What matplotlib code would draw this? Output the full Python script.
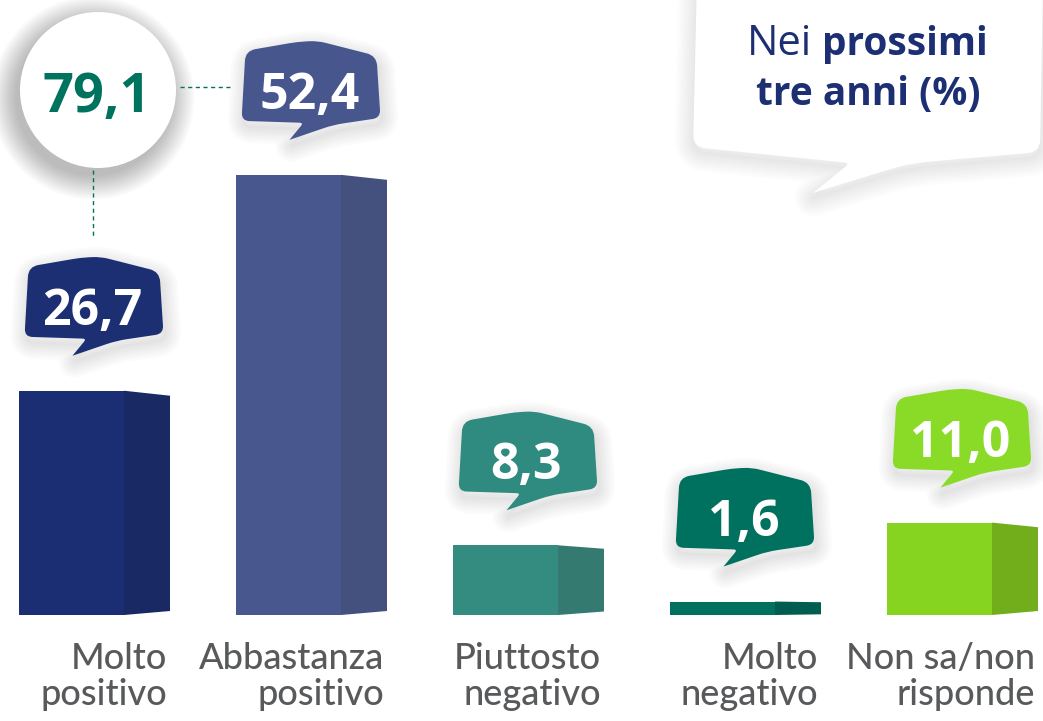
import matplotlib
matplotlib.use("Agg")
import matplotlib.pyplot as plt
import numpy as np
from matplotlib.path import Path
from matplotlib.patches import PathPatch, Circle
from matplotlib.transforms import Affine2D, ScaledTranslation

# dati
categorie = ["Molto\npositivo", "Abbastanza\npositivo", "Piuttosto\nnegativo",
             "Molto\nnegativo", "Non sa/non\nrisponde"]
valori = [26.7, 52.4, 8.3, 1.6, 11.0]
etichette = ["26,7", "52,4", "8,3", "1,6", "11,0"]
totale_positivo = "79,1"

col_fronte = ["#1b2e73", "#48588f", "#348b80", "#02705f", "#86d420"]
col_lato = ["#182963", "#44507e", "#347a71", "#025d51", "#72ad1c"]
col_fumetto = ["#1c2f73", "#47578e", "#2f8a7f", "#00705f", "#8adb28"]
blu = "#1c2f73"
verde_scuro = "#00735f"
grigio = "#58595b"

W, H = 1043, 721
PX_X = 217.0   # pixel per categoria
PX_Y = 8.4     # pixel per punto percentuale


def rounded_path(pts, radii):
    n = len(pts)
    verts, codes = [], []
    for k in range(n):
        p = np.array(pts[k], float)
        r = radii[k]
        if r == 0:
            verts.append(p)
            codes.append(Path.LINETO)
            continue
        a = np.array(pts[k - 1], float)
        b = np.array(pts[(k + 1) % n], float)
        da, db = a - p, b - p
        la, lb = np.linalg.norm(da), np.linalg.norm(db)
        pa = p + da / la * min(r, la / 2)
        pb = p + db / lb * min(r, lb / 2)
        verts += [pa, p, pb]
        codes += [Path.LINETO, Path.CURVE3, Path.CURVE3]
    codes[0] = Path.MOVETO
    verts.append(verts[0])
    codes.append(Path.CLOSEPOLY)
    return Path(verts, codes)


# forma del fumetto (pixel, relativo al centro, y verso l'alto)
fumetto_pts = [(-66, 30), (-14, 39), (6, 40), (65, 25), (69, -37),
               (22, -44), (-22, -59), (-8, -42), (-70, -40)]
fumetto_r = [10, 8, 8, 10, 8, 10, 0, 4, 8]
fumetto = rounded_path(fumetto_pts, fumetto_r)

fig = plt.figure(figsize=(W / 100, H / 100), dpi=100)
ax = fig.add_axes([0, 0, 1, 1])
ax.set_xlim(-94.5 / PX_X, (W - 94.5) / PX_X)
ax.set_ylim(-106 / PX_Y, 615 / PX_Y)
ax.axis("off")

x = np.arange(len(valori))
larg = 151 / PX_X
fronte = 105 / PX_X
lato = larg - fronte

ax.bar(x - larg / 2, valori, width=fronte, align="edge", color=col_fronte, zorder=2)
for i, v in enumerate(valori):
    x0 = i - larg / 2 + fronte
    x1 = x0 + lato
    d_top = min(5 / PX_Y, v * 0.05)
    d_bot = min(4 / PX_Y, v * 0.05)
    ax.fill([x0, x1, x1, x0], [0, d_bot, v - d_top, v], color=col_lato[i], lw=0, zorder=2)

# fumetti con i valori
for i, v in enumerate(valori):
    base = ScaledTranslation(i, v, ax.transData)
    tr = Affine2D().translate(0, 94) + base
    for k in range(7):
        ax.add_patch(PathPatch(fumetto, transform=Affine2D().translate(2, 88) + base,
                               fc="none", ec="k", lw=2 + 3.5 * k, alpha=0.016,
                               joinstyle="round", zorder=3))
    ax.add_patch(PathPatch(fumetto, transform=tr, fc=col_fumetto[i], ec="none", zorder=4))
    ax.text(-2, -28, etichette[i], transform=tr, ha="center", va="baseline",
            color="white", fontsize=36, fontweight="bold", family="Open Sans", zorder=5)

# etichette categorie
for i, lab in enumerate(categorie):
    righe = lab.split("\n")
    for j, riga in enumerate(righe):
        ax.text(i + larg / 2 - 3 / PX_X, (615 - 669 - 36 * j) / PX_Y, riga,
                ha="right", va="baseline", color=grigio, fontsize=26,
                fontweight="medium", family=["Lato", "DejaVu Sans"])

# livello decorativo in pixel
ov = fig.add_axes([0, 0, 1, 1])
ov.set_xlim(0, W)
ov.set_ylim(H, 0)
ov.axis("off")
ov.patch.set_alpha(0)

# cerchio totale
for k in range(14):
    ov.add_patch(Circle((93, 98), 78 + 1.8 * k, fc="k", ec="none", alpha=0.02))
ov.add_patch(Circle((98, 90), 78, fc="white", ec="none"))
ov.text(97, 112, totale_positivo, ha="center", va="baseline", color=verde_scuro,
        fontsize=39, fontweight="bold", family="Open Sans")
ov.plot([180, 230], [87, 87], ls=(0, (3, 2.5)), lw=1, color=verde_scuro)
ov.plot([93, 93], [170, 237], ls=(0, (3, 2.5)), lw=1, color=verde_scuro)

# fumetto titolo
titolo_pts = [(697, -20), (1043, -20), (1040, 152), (913, 163), (887, 170),
              (813, 193), (850, 163), (693, 147)]
titolo_r = [0, 0, 12, 20, 10, 0, 6, 12]
titolo = rounded_path(titolo_pts, titolo_r)
for k in range(8):
    ov.add_patch(PathPatch(titolo, transform=Affine2D().translate(0, 5) + ov.transData,
                           fc="none", ec="k", lw=2 + 3.5 * k, alpha=0.012, joinstyle="round"))
ov.add_patch(PathPatch(titolo, fc="white", ec="none"))
ov.text(812, 55, "Nei", ha="right", va="baseline", color=blu, fontsize=30, family="Open Sans")
ov.text(822, 55, "prossimi", ha="left", va="baseline", color=blu, fontsize=28,
        fontweight="bold", family="Open Sans")
ov.text(868, 105, "tre anni (%)", ha="center", va="baseline", color=blu, fontsize=28,
        fontweight="bold", family="Open Sans")

fig.savefig("out.png", dpi=100)
